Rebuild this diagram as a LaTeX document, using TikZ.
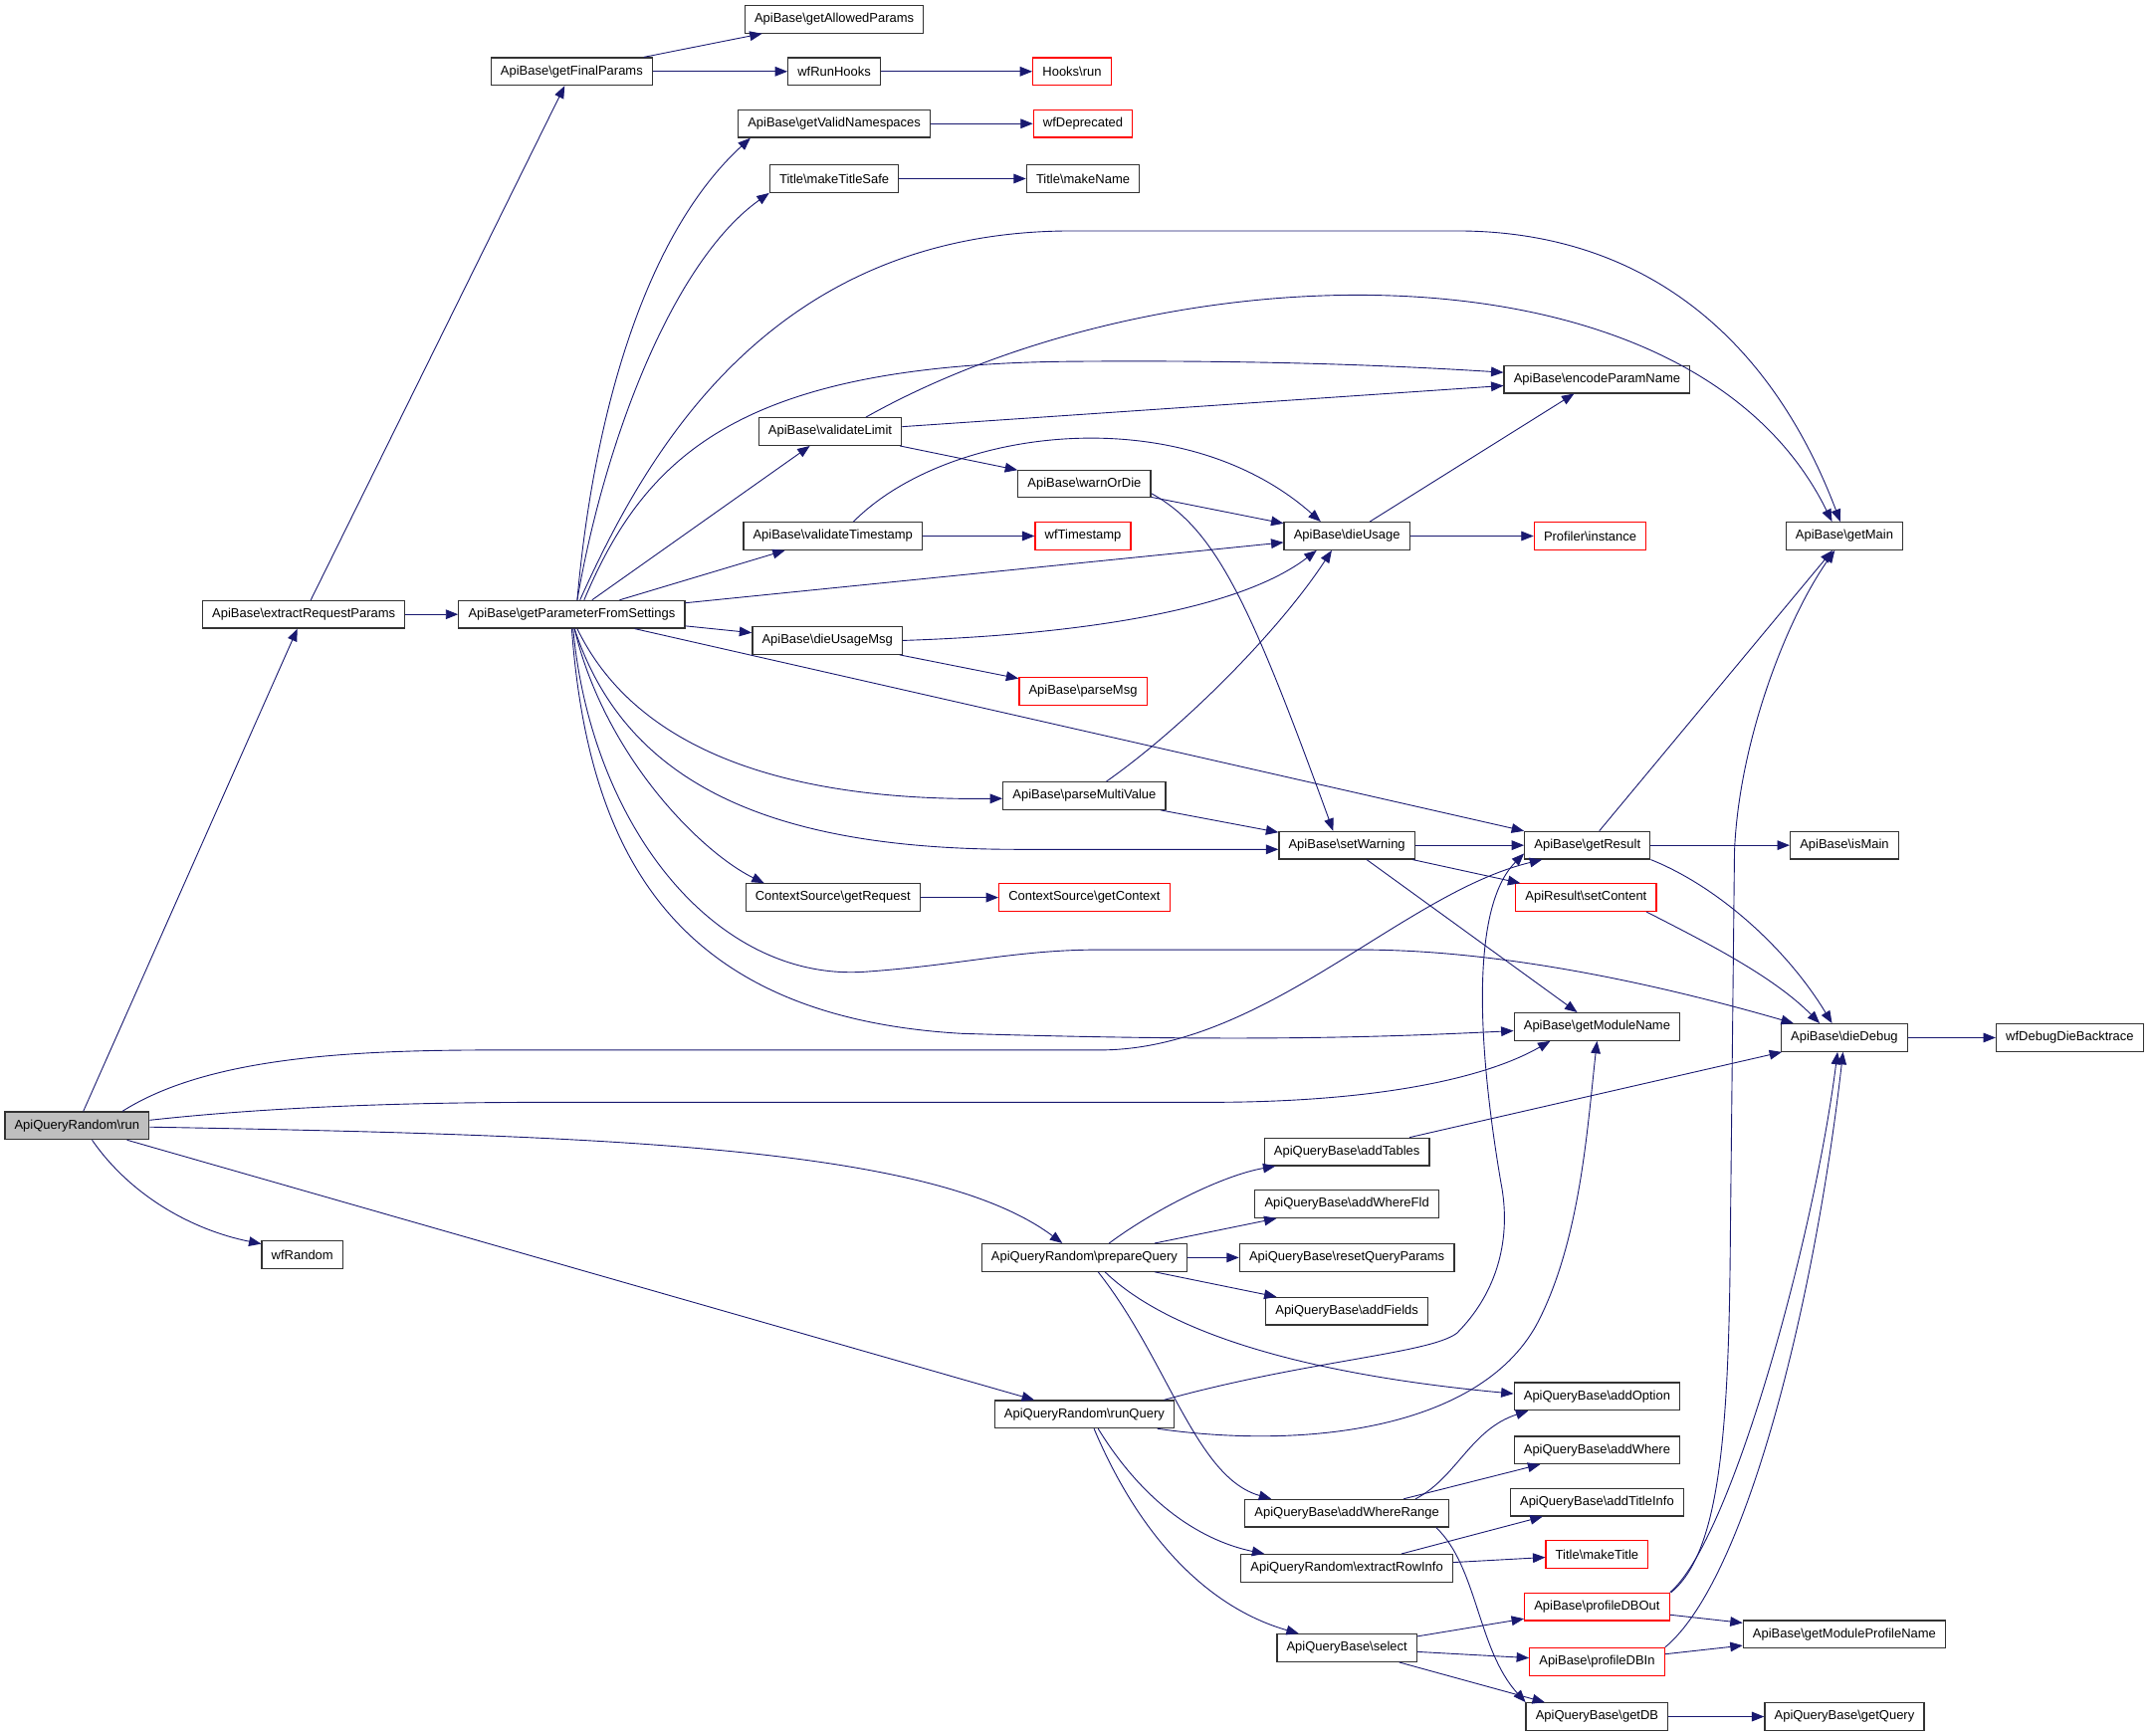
\documentclass[tikz,border=0pt]{standalone}
\usepackage{fontspec}
\setmainfont{Liberation Sans}
\usetikzlibrary{arrows.meta}
\definecolor{edgeblue}{HTML}{191970}
\newcommand{\bsl}{\textbackslash}

\begin{document}
\begin{tikzpicture}[x=1pt,y=-1pt,
    fn/.style={draw=black!80,line width=0.9pt,fill=white,font=\fontsize{9.4}{11}\selectfont,inner xsep=7pt,inner ysep=0pt,minimum height=20pt},
    fnred/.style={fn,draw=red},
    fnroot/.style={fn,fill=black!25},
    call/.style={edgeblue,line width=0.65pt,-{Triangle[length=9pt,width=7pt]}}]
    \useasboundingbox (0,0) rectangle (1568,1263);

    \node[fnroot] (run) at (56,819) {ApiQueryRandom\bsl run};
    \node[fn] (eRP) at (221,447) {ApiBase\bsl extractRequestParams};
    \node[fn] (wRand) at (220,913) {wfRandom};
    \node[fn] (gFP) at (416,52) {ApiBase\bsl getFinalParams};
    \node[fn] (gpfs) at (416,447) {ApiBase\bsl getParameterFromSettings};
    \node[fn] (gAP) at (607,14) {ApiBase\bsl getAllowedParams};
    \node[fn] (wRH) at (607,52) {wfRunHooks};
    \node[fn] (gVN) at (607,90) {ApiBase\bsl getValidNamespaces};
    \node[fn] (mTS) at (607,130) {Title\bsl makeTitleSafe};
    \node[fn] (vL) at (604,314) {ApiBase\bsl validateLimit};
    \node[fn] (vT) at (606,390) {ApiBase\bsl validateTimestamp};
    \node[fn] (dUM) at (602,466) {ApiBase\bsl dieUsageMsg};
    \node[fn] (gReq) at (606,653) {ContextSource\bsl getRequest};
    \node[fnred] (hrun) at (780,52) {Hooks\bsl run};
    \node[fnred] (wDep) at (788,90) {wfDeprecated};
    \node[fn] (mName) at (788,130) {Title\bsl makeName};
    \node[fn] (wOD) at (789,352) {ApiBase\bsl warnOrDie};
    \node[fnred] (wTS) at (788,390) {wfTimestamp};
    \node[fnred] (pMsg) at (788,503) {ApiBase\bsl parseMsg};
    \node[fn] (pMV) at (789,579) {ApiBase\bsl parseMultiValue};
    \node[fnred] (gCtx) at (789,653) {ContextSource\bsl getContext};
    \node[fn] (pQ) at (789,915) {ApiQueryRandom\bsl prepareQuery};
    \node[fn] (rQ) at (789,1029) {ApiQueryRandom\bsl runQuery};
    \node[fn] (dU) at (980,390) {ApiBase\bsl dieUsage};
    \node[fn] (sW) at (980,615) {ApiBase\bsl setWarning};
    \node[fn] (aTab) at (980,838) {ApiQueryBase\bsl addTables};
    \node[fn] (aWF) at (980,876) {ApiQueryBase\bsl addWhereFld};
    \node[fn] (rQP) at (980,915) {ApiQueryBase\bsl resetQueryParams};
    \node[fn] (aF) at (980,954) {ApiQueryBase\bsl addFields};
    \node[fn] (aWR) at (980,1101) {ApiQueryBase\bsl addWhereRange};
    \node[fn] (eRI) at (980,1141) {ApiQueryRandom\bsl extractRowInfo};
    \node[fn] (sel) at (980,1199) {ApiQueryBase\bsl select};
    \node[fn] (ePN) at (1162,276) {ApiBase\bsl encodeParamName};
    \node[fnred] (pInst) at (1157,390) {Profiler\bsl instance};
    \node[fn] (gRes) at (1155,615) {ApiBase\bsl getResult};
    \node[fnred] (sCon) at (1154,653) {ApiResult\bsl setContent};
    \node[fn] (gMN) at (1162,747) {ApiBase\bsl getModuleName};
    \node[fn] (aO) at (1162,1016) {ApiQueryBase\bsl addOption};
    \node[fn] (aW) at (1162,1055) {ApiQueryBase\bsl addWhere};
    \node[fn] (aTI) at (1162,1093) {ApiQueryBase\bsl addTitleInfo};
    \node[fnred] (mT) at (1162,1131) {Title\bsl makeTitle};
    \node[fnred] (pDO) at (1162,1169) {ApiBase\bsl profileDBOut};
    \node[fnred] (pDI) at (1162,1209) {ApiBase\bsl profileDBIn};
    \node[fn] (gDB) at (1162,1249) {ApiQueryBase\bsl getDB};
    \node[fn] (gMain) at (1342,390) {ApiBase\bsl getMain};
    \node[fn] (isM) at (1342,615) {ApiBase\bsl isMain};
    \node[fn] (dD) at (1342,755) {ApiBase\bsl dieDebug};
    \node[fn] (gMPN) at (1342,1189) {ApiBase\bsl getModuleProfileName};
    \node[fn] (gQ) at (1342,1249) {ApiQueryBase\bsl getQuery};
    \node[fn] (wDDB) at (1506,755) {wfDebugDieBacktrace};

    \foreach \a/\b in {run/eRP,run/rQ,eRP/gFP,eRP/gpfs,gFP/gAP,gFP/wRH,wRH/hrun,gVN/wDep,mTS/mName,
        gpfs/vL,gpfs/vT,gpfs/dU,gpfs/dUM,gpfs/gRes,vL/ePN,vL/wOD,vT/wTS,wOD/dU,dU/ePN,dU/pInst,
        dUM/pMsg,pMV/sW,sW/gRes,sW/sCon,sW/gMN,gRes/gMain,gRes/isM,gReq/gCtx,dD/wDDB,
        pQ/aWF,pQ/rQP,pQ/aF,aTab/dD,aWR/aW,eRI/aTI,eRI/mT,sel/pDO,sel/pDI,sel/gDB,
        pDO/gMPN,pDI/gMPN,gDB/gQ}
        \draw[call] (\a) -- (\b);

    \draw[call] ([xshift=4pt]gpfs.north) .. controls (432,300) and (470,170) .. ([xshift=-61pt]gVN.south);
    \draw[call] ([xshift=4pt]gpfs.north) .. controls (440,320) and (490,190) .. (mTS.south west);
    \draw[call] ([xshift=6pt]gpfs.north) .. controls (470,330) and (560,168) .. (780,168) -- (1060,168)
        .. controls (1200,168) and (1290,250) .. ([xshift=-3pt]gMain.north);
    \draw[call] ([xshift=9pt]gpfs.north) .. controls (470,330) and (540,265) .. (780,263)
        .. controls (900,262) and (1000,265) .. ([yshift=5pt]ePN.west);
    \draw[call] ([xshift=26pt]vL.north) .. controls (850,180) and (1230,170) .. ([xshift=-9pt]gMain.north);
    \draw[call] ([xshift=4pt]gpfs.south) .. controls (460,540) and (560,583) .. ([yshift=-2pt]pMV.west);
    \draw[call] ([xshift=2pt]gpfs.south) .. controls (455,570) and (560,618) .. (740,618) -- ([yshift=-3pt]sW.west);
    \draw[call] ([xshift=2pt]gpfs.south) .. controls (440,550) and (510,620) .. ([xshift=-50pt]gReq.north);
    \draw[call] ([xshift=1pt]gpfs.south) .. controls (430,600) and (520,715) .. (630,707)
        .. controls (700,702) and (740,691) .. (800,691) -- (990,691)
        .. controls (1100,691) and (1220,720) .. ([xshift=-37pt]dD.north);
    \draw[call] (gpfs.south) .. controls (428,620) and (490,740) .. (700,752)
        .. controls (900,758) and (1000,755) .. ([yshift=-3pt]gMN.west);
    \draw[call] ([xshift=33pt]run.north) .. controls (150,770) and (250,764) .. (360,764) -- (800,764)
        .. controls (920,764) and (1020,650) .. ([xshift=-33pt]gRes.south);
    \draw[call] ([yshift=4pt]run.east) .. controls (200,805) and (300,802) .. (400,802) -- (880,802)
        .. controls (1000,802) and (1080,785) .. ([xshift=-34pt]gMN.south);
    \draw[call] ([yshift=-1pt]run.east) .. controls (450,826) and (680,835) .. ([xshift=-16pt]pQ.north);
    \draw[call] ([xshift=11pt]run.south) .. controls (95,870) and (140,895) .. ([yshift=8pt]wRand.west);
    \draw[call] ([xshift=15pt]vT.north) .. controls (690,310) and (860,290) .. ([xshift=-19pt]dU.north);
    \draw[call] ([yshift=-7pt]wOD.east) .. controls (885,385) and (910,440) .. ([xshift=-10pt]sW.north);
    \draw[call] (dUM.east) .. controls (780,462) and (900,445) .. ([xshift=-22pt]dU.south);
    \draw[call] ([xshift=16pt]pMV.north) .. controls (860,530) and (930,460) .. ([xshift=-11pt]dU.south);
    \draw[call] (gRes.south east) .. controls (1250,645) and (1300,690) .. ([xshift=-9pt]dD.north);
    \draw[call] ([xshift=44pt]sCon.south) .. controls (1240,685) and (1290,710) .. ([xshift=-18pt]dD.north);
    \draw[call] ([xshift=18pt]pQ.north) .. controls (840,880) and (890,855) .. ([xshift=-52pt]aTab.south);
    \draw[call] ([xshift=15pt]pQ.south) .. controls (850,970) and (950,1000) .. ([yshift=2pt]aO.west);
    \draw[call] ([xshift=10pt]pQ.south) .. controls (850,990) and (870,1075) .. ([xshift=-55pt]aWR.north);
    \draw[call] ([xshift=58pt]rQ.north) .. controls (950,990) and (1040,985) .. (1060,970)
        .. controls (1090,940) and (1100,900) .. (1092,860)
        .. controls (1075,760) and (1070,660) .. ([yshift=-6pt]gRes.west);
    \draw[call] ([xshift=53pt]rQ.south) .. controls (950,1055) and (1080,1040) .. (1120,960)
        .. controls (1150,900) and (1155,820) .. (gMN.south);
    \draw[call] ([xshift=10pt]rQ.south) .. controls (830,1090) and (870,1120) .. ([xshift=-60pt]eRI.north);
    \draw[call] ([xshift=7pt]rQ.south) .. controls (830,1120) and (880,1170) .. ([xshift=-35pt]sel.north);
    \draw[call] ([xshift=50pt]aWR.north) .. controls (1060,1075) and (1070,1040) .. ([xshift=-50pt]aO.south);
    \draw[call] ([xshift=65pt]aWR.south) .. controls (1075,1140) and (1075,1200) .. ([xshift=-52pt]gDB.north);
    \draw[call] ([xshift=54pt]pDO.north) .. controls (1250,1130) and (1258,1050) .. (1259,900) -- (1262,620)
        .. controls (1265,540) and (1300,450) .. ([xshift=-7pt]gMain.south);
    \draw[call] (pDO.north east) .. controls (1260,1120) and (1320,900) .. ([xshift=-5pt]dD.south);
    \draw[call] (pDI.north east) .. controls (1270,1150) and (1320,950) .. ([xshift=-1pt]dD.south);
\end{tikzpicture}
\end{document}
